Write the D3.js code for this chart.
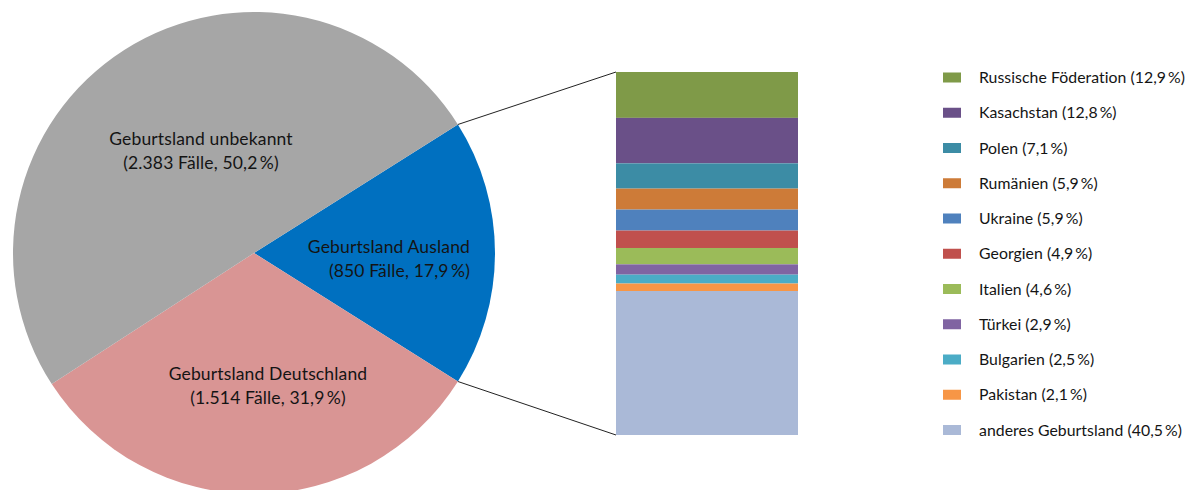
<!DOCTYPE html>
<html>
<head>
<meta charset="utf-8">
<script src="https://cdn.jsdelivr.net/npm/d3@7"></script>
<style>
  body { margin: 0; background: #fff; }
  svg text { font-family: Lato, "Noto Sans", sans-serif; fill: #141414; }
</style>
</head>
<body>
<script>
// pie: Geburtsland
const pieNames = ["Ausland", "Deutschland", "unbekannt"];
const pieCases = ["850", "1.514", "2.383"];
const pieShares = [17.9, 31.9, 50.2];
const pieColors = ["#0070c0", "#d99594", "#a6a6a6"];

// bar: countries inside "Ausland"
const countries = ["Russische Föderation", "Kasachstan", "Polen", "Rumänien", "Ukraine",
  "Georgien", "Italien", "Türkei", "Bulgarien", "Pakistan", "anderes Geburtsland"];
const countryShares = [12.9, 12.8, 7.1, 5.9, 5.9, 4.9, 4.6, 2.9, 2.5, 2.1, 40.5];
const countryColors = ["#7f9a48", "#6a5088", "#3c8ca5", "#cd7b38", "#4f81bd",
  "#c0504d", "#9bbb59", "#8064a2", "#4bacc6", "#f79646", "#aab9d7"];

const fmt = v => d3.format(".1f")(v).replace(".", ",") + "\u2009%";

const W = 1190, H = 490;
const svg = d3.select("body").append("svg").attr("width", W).attr("height", H);

// ---- pie
const cx = 254, cy = 253, R = 241;
const firstShare = pieShares[0] / d3.sum(pieShares);
const a0 = Math.PI / 2 - firstShare * Math.PI; // centre the foreign slice on 3 o'clock

const pie = d3.pie().sort(null).value(d => d)
  .startAngle(a0).endAngle(a0 + 2 * Math.PI);
const arcs = pie(pieShares);
const arc = d3.arc().innerRadius(0).outerRadius(R);

const gp = svg.append("g").attr("transform", `translate(${cx},${cy})`);
gp.selectAll("path").data(arcs).enter().append("path")
  .attr("d", arc)
  .attr("fill", (d, i) => pieColors[i]);

// label spots [x, y, anchor]
const labelPos = [[470, 253, "end"], [268, 380, "middle"], [201, 145, "middle"]];
const pl = svg.append("g").attr("font-size", 17.5).attr("letter-spacing", 0.15);
arcs.forEach((d, i) => {
  const [x, y, anc] = labelPos[i];
  const t = pl.append("text").attr("text-anchor", anc);
  t.append("tspan").attr("x", x).attr("y", y).text("Geburtsland " + pieNames[i]);
  t.append("tspan").attr("x", x).attr("y", y + 24)
    .text(`(${pieCases[i]} Fälle, ${fmt(pieShares[i])})`);
});

// ---- stacked bar
const bx = 616, bw = 182, by0 = 72, by1 = 435;
const y = d3.scaleLinear().domain([0, d3.sum(countryShares)]).range([by0, by1]);
let acc = 0;
const stack = countryShares.map(v => { const s = acc; acc += v; return [s, acc]; });
svg.append("g").selectAll("rect").data(stack).enter().append("rect")
  .attr("x", bx).attr("width", bw)
  .attr("y", d => y(d[0]))
  .attr("height", d => y(d[1]) - y(d[0]))
  .attr("fill", (d, i) => countryColors[i]);

// connector lines from the foreign slice to the bar
const ang = [arcs[0].startAngle, arcs[0].endAngle];
const pts = ang.map(a => [cx + R * Math.sin(a), cy - R * Math.cos(a)]);
svg.append("line").attr("x1", pts[0][0]).attr("y1", pts[0][1])
  .attr("x2", bx).attr("y2", by0).attr("stroke", "#222").attr("stroke-width", 1);
svg.append("line").attr("x1", pts[1][0]).attr("y1", pts[1][1])
  .attr("x2", bx).attr("y2", by1).attr("stroke", "#222").attr("stroke-width", 1);

// ---- legend
const lg = svg.append("g").attr("font-size", 15.8).attr("letter-spacing", 0.05);
const ly = d3.scalePoint().domain(countries).range([77.5, 430]);
countries.forEach((c, i) => {
  lg.append("rect").attr("x", 943).attr("y", ly(c) - 5).attr("width", 18).attr("height", 10)
    .attr("fill", countryColors[i]);
  lg.append("text").attr("x", 979).attr("y", ly(c) + 5.5)
    .text(`${c} (${fmt(countryShares[i])})`);
});
</script>
</body>
</html>
